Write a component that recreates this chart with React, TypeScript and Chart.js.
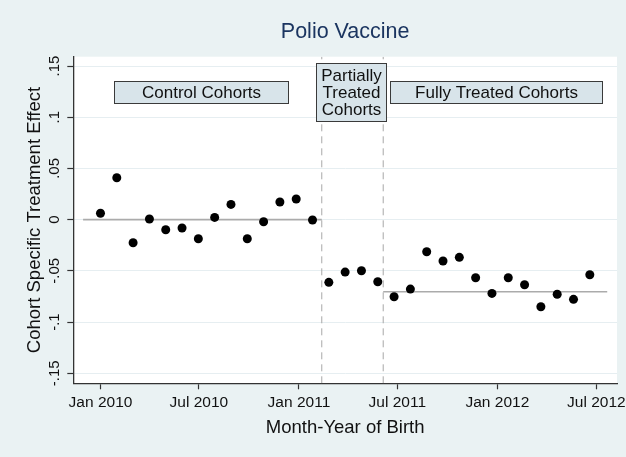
import React, { useEffect, useRef } from "react";
import { Chart, registerables } from "chart.js";

Chart.register(...registerables);

// ---- Data (x = days since 1 Jan 2010, cohort start) ----
const controlDays = [0, 30, 60, 90, 120, 150, 180, 210, 240, 270, 300, 330, 360, 390];
const controlEffects = [0.0062, 0.0409, -0.0226, 0.0006, -0.0099, -0.0082, -0.0187, 0.0022, 0.0149, -0.0187, -0.0021, 0.0172, 0.0201, -0.0004];

const partialDays = [420, 450, 480, 510];
const partialEffects = [-0.0612, -0.0512, -0.0499, -0.0606];

const fullDays = [540, 570, 600, 630, 660, 690, 720, 750, 780, 810, 840, 870, 900];
const fullEffects = [-0.0753, -0.0678, -0.0313, -0.0404, -0.0368, -0.0567, -0.072, -0.0567, -0.0636, -0.0851, -0.0729, -0.0778, -0.0538];

const controlMean = 0.0;
const controlMeanSpan = [-32, 407];
const fullMean = -0.0704;
const fullMeanSpan = [520, 932];

const cutoffDays = [407, 520];

const xTickDays = [0, 181, 365, 546, 730, 912];
const xTickLabels = ["Jan 2010", "Jul 2010", "Jan 2011", "Jul 2011", "Jan 2012", "Jul 2012"];

const yTickValues = [-0.15, -0.1, -0.05, 0, 0.05, 0.1, 0.15];
const yTickLabels = ["-.15", "-.1", "-.05", "0", ".05", ".1", ".15"];

const X_MIN = -50;
const X_MAX = 950;
const Y_MIN = -0.1598;
const Y_MAX = 0.1591;

const boxLabels = [
  { lines: ["Control Cohorts"], x0: 25, x1: 344, y0: 0.1136, y1: 0.1354 },
  { lines: ["Partially", "Treated", "Cohorts"], x0: 396, x1: 525, y0: 0.0966, y1: 0.1526 },
  { lines: ["Fully Treated Cohorts"], x0: 533, x1: 921.5, y0: 0.1136, y1: 0.1354 },
];

const FONT = "'Liberation Sans', Arial, Helvetica, sans-serif";

const toPts = (xs: number[], ys: number[]) => xs.map((x, i) => ({ x, y: ys[i] }));

const plotBgPlugin = {
  id: "plotBg",
  beforeDraw(chart: any) {
    const { ctx, chartArea } = chart;
    ctx.save();
    ctx.fillStyle = "#ffffff";
    ctx.fillRect(chartArea.left, chartArea.top, chartArea.right - chartArea.left, chartArea.bottom - chartArea.top);
    ctx.restore();
  },
};

const boxesPlugin = {
  id: "cohortBoxes",
  afterDatasetsDraw(chart: any) {
    const { ctx } = chart;
    const xs = chart.scales.x;
    const ys = chart.scales.y;
    ctx.save();
    for (const b of boxLabels) {
      const l = Math.round(xs.getPixelForValue(b.x0)) + 0.5;
      const r = Math.round(xs.getPixelForValue(b.x1)) + 0.5;
      const t = Math.round(ys.getPixelForValue(b.y1)) + 0.5;
      const bt = Math.round(ys.getPixelForValue(b.y0)) + 0.5;
      ctx.fillStyle = "#d8e4ea";
      ctx.fillRect(l, t, r - l, bt - t);
      ctx.strokeStyle = "#3a3a3a";
      ctx.lineWidth = 1;
      ctx.strokeRect(l, t, r - l, bt - t);
      ctx.fillStyle = "#111111";
      ctx.font = `17px ${FONT}`;
      ctx.textAlign = "center";
      ctx.textBaseline = "middle";
      const lh = 16.7;
      const cx = (l + r) / 2;
      const cy = (t + bt) / 2;
      const n = b.lines.length;
      b.lines.forEach((line, i) => {
        ctx.fillText(line, cx, cy + (i - (n - 1) / 2) * lh + 1);
      });
    }
    ctx.restore();
  },
};

export default function App() {
  const canvasRef = useRef<HTMLCanvasElement | null>(null);

  useEffect(() => {
    if (!canvasRef.current) return;
    const pointStyle = {
      type: "scatter" as const,
      pointRadius: 4.5,
      pointHoverRadius: 4.5,
      pointBackgroundColor: "#000000",
      pointBorderWidth: 0,
      showLine: false,
      order: 0,
    };
    const lineStyle = {
      type: "line" as const,
      showLine: true,
      pointRadius: 0,
      fill: false,
      tension: 0,
    };
    const chart = new Chart(canvasRef.current, {
      type: "scatter",
      data: {
        datasets: [
          { ...pointStyle, label: "Control", data: toPts(controlDays, controlEffects) },
          { ...pointStyle, label: "Partial", data: toPts(partialDays, partialEffects) },
          { ...pointStyle, label: "Full", data: toPts(fullDays, fullEffects) },
          {
            ...lineStyle,
            label: "Control mean",
            data: controlMeanSpan.map((x) => ({ x, y: controlMean })),
            borderColor: "#ababab",
            borderWidth: 1.6,
            order: 2,
          },
          {
            ...lineStyle,
            label: "Full mean",
            data: fullMeanSpan.map((x) => ({ x, y: fullMean })),
            borderColor: "#ababab",
            borderWidth: 1.6,
            order: 2,
          },
          ...cutoffDays.map((d, i) => ({
            ...lineStyle,
            label: "Cutoff " + (i + 1),
            data: [
              { x: d, y: Y_MIN },
              { x: d, y: Y_MAX },
            ],
            borderColor: "#a8a8a8",
            borderWidth: 1,
            borderDash: [7, 5],
            order: 3,
          })),
        ] as any,
      },
      options: {
        animation: false,
        responsive: false,
        devicePixelRatio: 1,
        layout: { padding: { left: 0, right: 9, top: 0, bottom: 0 } },
        plugins: {
          legend: { display: false },
          tooltip: { enabled: false },
          title: {
            display: true,
            text: "Polio Vaccine",
            fullSize: false,
            color: "#1b3560",
            font: { family: FONT, size: 21.5, weight: "normal" },
            padding: { top: 19.5, bottom: 11.4 },
          },
        },
        scales: {
          x: {
            type: "linear",
            min: X_MIN,
            max: X_MAX,
            afterBuildTicks: (scale: any) => {
              scale.ticks = xTickDays.map((v) => ({ value: v }));
            },
            afterFit: (scale: any) => {
              scale.height = 73.7;
              scale.paddingLeft = 0;
              scale.paddingRight = 0;
            },
            ticks: {
              autoSkip: false,
              maxRotation: 0,
              minRotation: 0,
              padding: 4,
              color: "#111111",
              font: { family: FONT, size: 15.5 },
              callback: (_v: any, i: number) => xTickLabels[i],
            },
            grid: {
              display: true,
              drawOnChartArea: false,
              drawTicks: true,
              tickLength: 6,
              tickColor: "#333333",
              tickWidth: 1.2,
            },
            border: { display: true, color: "#333333", width: 1.3 },
            title: {
              display: true,
              text: "Month-Year of Birth",
              color: "#111111",
              font: { family: FONT, size: 18.5 },
              padding: { top: 0, bottom: 18 },
            },
          },
          y: {
            type: "linear",
            min: Y_MIN,
            max: Y_MAX,
            afterBuildTicks: (scale: any) => {
              scale.ticks = yTickValues.map((v) => ({ value: v }));
            },
            afterFit: (scale: any) => {
              scale.width = 73.3;
              scale.paddingTop = 0;
              scale.paddingBottom = 0;
            },
            ticks: {
              autoSkip: false,
              minRotation: 90,
              maxRotation: 90,
              crossAlign: "center",
              padding: 0,
              color: "#111111",
              font: { family: FONT, size: 15 },
              callback: (_v: any, i: number) => yTickLabels[i],
            },
            grid: {
              display: true,
              drawOnChartArea: true,
              drawTicks: true,
              tickLength: 6,
              color: "#e6eef1",
              lineWidth: 1,
              tickColor: "#333333",
              tickWidth: 1.2,
            },
            border: { display: true, color: "#333333", width: 1.3 },
            title: {
              display: true,
              text: "Cohort Specific Treatment Effect",
              color: "#111111",
              font: { family: FONT, size: 18.5 },
              padding: { top: 24, bottom: 0 },
            },
          },
        },
      } as any,
      plugins: [plotBgPlugin, boxesPlugin],
    });
    return () => chart.destroy();
  }, []);

  return (
    <div
      style={{
        position: "absolute",
        left: 0,
        top: 0,
        width: 626,
        height: 457,
        background: "#eaf2f3",
        overflow: "hidden",
      }}
    >
      <canvas ref={canvasRef} width={626} height={457} style={{ display: "block", width: 626, height: 457 }} />
    </div>
  );
}
